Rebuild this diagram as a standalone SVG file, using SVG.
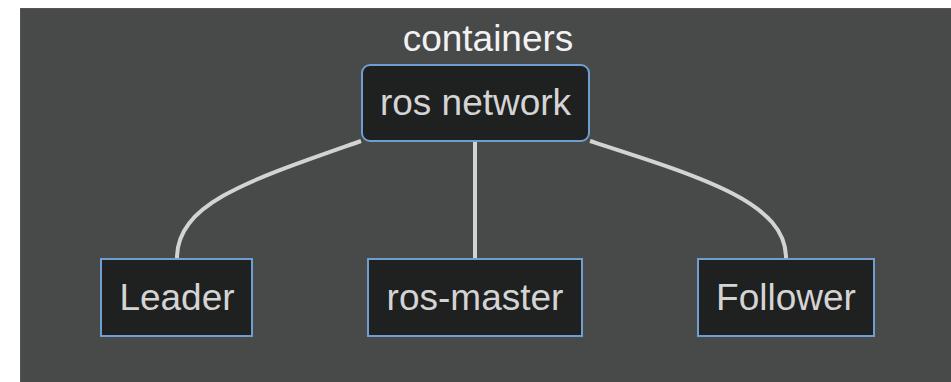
<svg xmlns="http://www.w3.org/2000/svg" width="951" height="382" viewBox="0 0 951 382">
<style>
.node rect{fill:#1f2020;stroke:#6e9fd0;stroke-width:2}
.node text{fill:#d4d4d4;font-family:"Liberation Sans",Arial,sans-serif;font-size:37px;text-anchor:middle}
.edge{fill:none;stroke:#d3d3d3;stroke-width:4}
</style>
<rect width="951" height="382" fill="#ffffff"/>
<g id="cluster-containers">
<rect x="20.5" y="8.5" width="940" height="380" fill="#484949" stroke="#555757" stroke-width="1"/>
<text x="488" y="51" fill="#f2f2f2" font-family="Liberation Sans, Arial, sans-serif" font-size="37" text-anchor="middle">containers</text>
</g>
<g id="connectors">
<path class="edge" d="M361,141 C250,180 177,203 177,258"/>
<path class="edge" d="M475,142 L475,258"/>
<path class="edge" d="M590,141 C705,178 786,203 786,258"/>
</g>
<g id="ros-network" class="node">
<rect x="362" y="65" width="227" height="76" rx="8" ry="8"/>
<text x="475.5" y="115">ros network</text>
</g>
<g id="Leader" class="node">
<rect x="101" y="259" width="151" height="77"/>
<text x="177" y="310">Leader</text>
</g>
<g id="ros-master" class="node">
<rect x="368" y="259" width="214" height="77"/>
<text x="475" y="310">ros-master</text>
</g>
<g id="Follower" class="node">
<rect x="698" y="259" width="176" height="77"/>
<text x="786" y="310">Follower</text>
</g>
</svg>
